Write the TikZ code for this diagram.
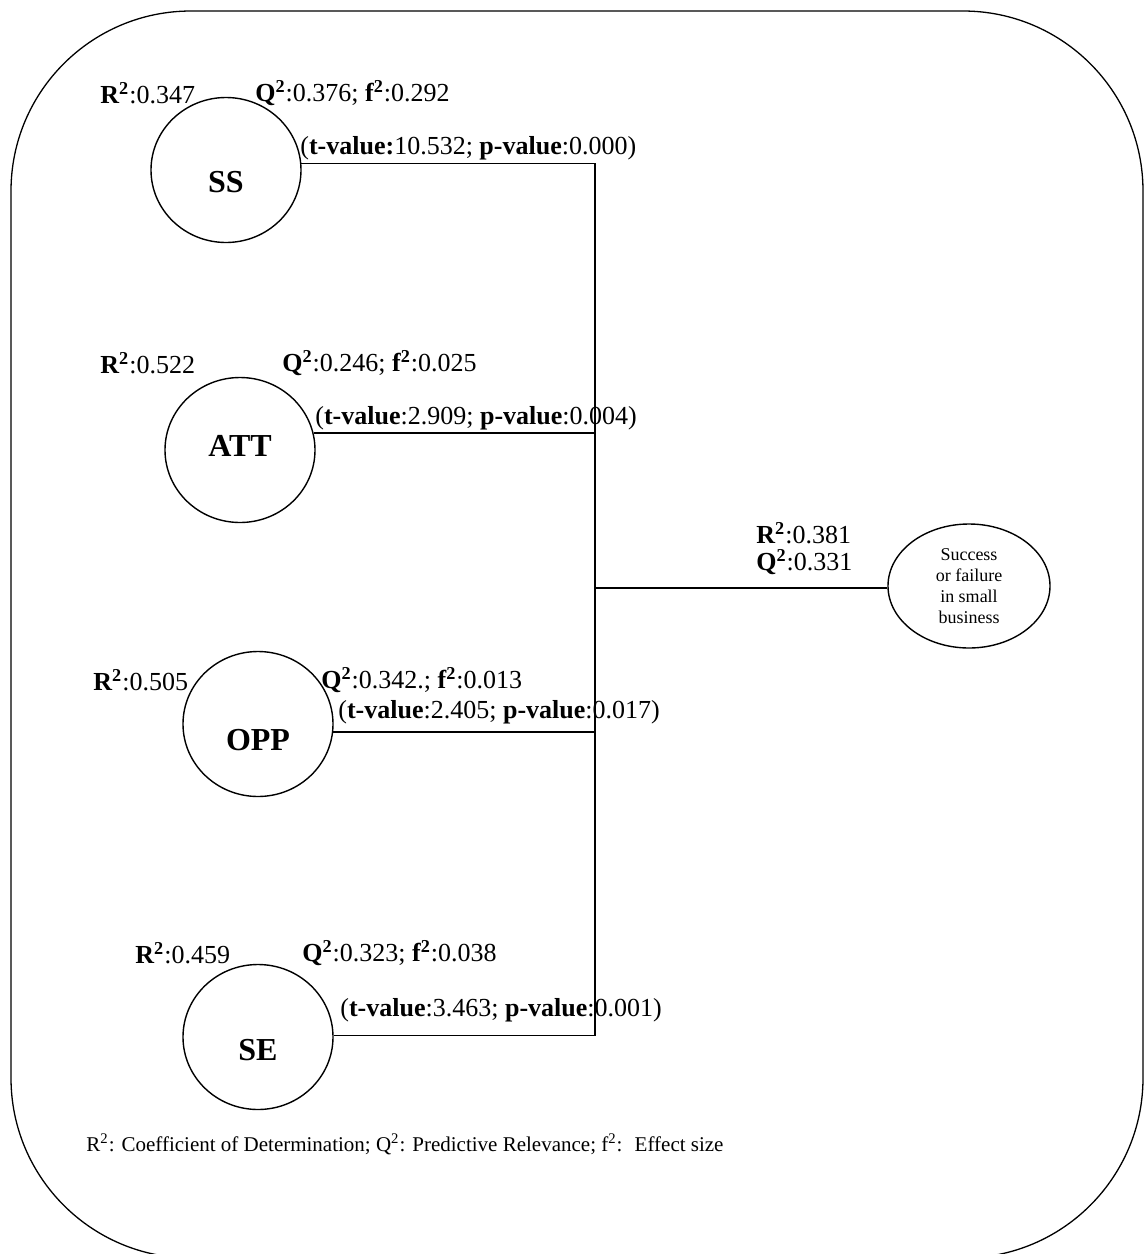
\documentclass[tikz,border=0pt]{standalone}
\usepackage{fontspec}
\setmainfont{Liberation Serif}
\usetikzlibrary{positioning,shapes.geometric}
\tikzset{
  latentnode/.style={draw, ellipse, line width=0.7pt, minimum width=75pt, minimum height=72.5pt, inner sep=0pt, text height=#1, text depth=0pt, font=\fontsize{16}{18}\selectfont\bfseries},
  latentnode/.default=22.6pt,
  outcomenode/.style={draw, ellipse, line width=0.7pt, minimum width=81pt, minimum height=62pt, inner sep=0pt, align=center, font=\fontsize{9}{10.5}\selectfont},
  statlabel/.style={anchor=west, inner sep=0pt, font=\fontsize{13}{15}\selectfont},
  notelabel/.style={anchor=west, inner sep=0pt, font=\fontsize{10.5}{12}\selectfont},
  pathline/.style={line width=0.7pt},
  framebox/.style={line width=0.65pt, rounded corners=90pt}
}
\newcommand{\Rsq}{\textbf{R\textsuperscript{2}}}
\newcommand{\Qsq}{\textbf{Q\textsuperscript{2}}}
\newcommand{\fsq}{\textbf{f\textsuperscript{2}}}

\begin{document}
\begin{tikzpicture}[x=0.5pt, y=-0.5pt]
  \useasboundingbox (0,0) rectangle (1145,1254);
  \draw[framebox] (11,11) rectangle (1143,1258);

  % constructs
  \node[latentnode] (ss) at (226,170) {SS};
  \node[latentnode=6.6pt] (att) at (240,450) {ATT};
  \node[latentnode=26.6pt] (opp) at (258,724) {OPP};
  \node[latentnode=23.6pt] (se) at (258,1037) {SE};
  \node[outcomenode] (out) at (969,586) {Success\\or failure\\in small\\business};
  \coordinate (bus) at (595,588);

  % paths
  \draw[pathline] (ss.5) -- (ss.5 -| bus) -- (se.1 -| bus) -- (se.1);
  \draw[pathline] (att.13) -- (att.13 -| bus);
  \draw[pathline] (opp.-6) -- (opp.-6 -| bus);
  \draw[pathline] (bus) -- (out.west |- bus);

  % statistics
  \node[statlabel] (ssr) at (100,93) {\Rsq:0.347};
  \node[statlabel] (ssq) at (255,93) {\Qsq:0.376; \fsq:0.292};
  \node[statlabel] (sst) at (300,148) {(\textbf{t-value:}10.532; \textbf{p-value}:0.000)};
  \node[statlabel] (attr) at (100,363) {\Rsq:0.522};
  \node[statlabel] (attq) at (282,363) {\Qsq:0.246; \fsq:0.025};
  \node[statlabel] (attt) at (315,418) {(\textbf{t-value}:2.909; \textbf{p-value}:0.004)};
  \node[statlabel] (outr) at (756,533) {\Rsq:0.381};
  \node[statlabel] (outq) at (756,562) {\Qsq:0.331};
  \node[statlabel] (oppr) at (93,680) {\Rsq:0.505};
  \node[statlabel] (oppq) at (321,680) {\Qsq:0.342.; \fsq:0.013};
  \node[statlabel] (oppt) at (338,712) {(\textbf{t-value}:2.405; \textbf{p-value}:0.017)};
  \node[statlabel] (ser) at (135,953) {\Rsq:0.459};
  \node[statlabel] (seq) at (302,953) {\Qsq:0.323; \fsq:0.038};
  \node[statlabel] (set) at (340,1010) {(\textbf{t-value}:3.463; \textbf{p-value}:0.001)};

  % footnote
  \node[notelabel] (note) at (86,1144) {R\textsuperscript{2}: Coefficient of Determination; Q\textsuperscript{2}: Predictive Relevance; f\textsuperscript{2}:~ Effect size};
\end{tikzpicture}
\end{document}
